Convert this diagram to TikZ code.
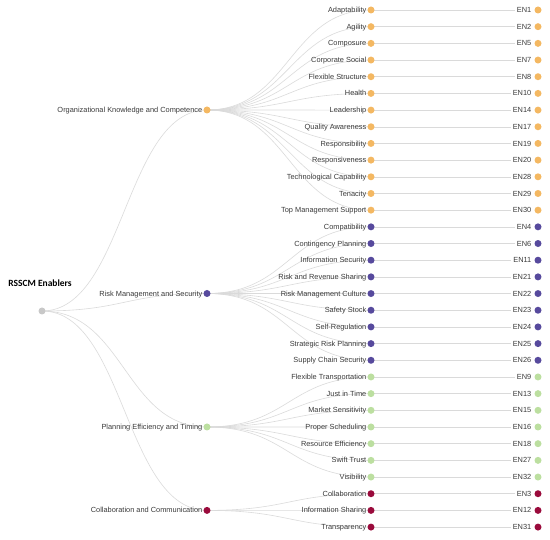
\documentclass[tikz,border=0pt]{standalone}
\usepackage{fontspec}
\setmainfont{Liberation Sans}
\newfontfamily\titlefont{Carlito}
\definecolor{corg}{HTML}{F4B862}
\definecolor{crisk}{HTML}{574A9D}
\definecolor{cplan}{HTML}{BCDFA0}
\definecolor{ccol}{HTML}{9A0B3C}
\definecolor{croot}{HTML}{C8C8C8}
\definecolor{clink}{HTML}{DADADA}
\definecolor{ctext}{HTML}{3A3A3A}
\pgfdeclarelayer{background}
\pgfsetlayers{background,main}
\tikzset{
  dot/.style={circle, inner sep=0pt, minimum size=7pt, fill=#1, draw=none},
  lbl/.style={anchor=base east, font=\fontsize{7.4}{8}\selectfont, text=ctext, inner sep=0pt},
  link/.style={draw=clink, line width=0.6pt},
  rootlbl/.style={font=\titlefont\bfseries\fontsize{9.5}{11}\selectfont, text=black, inner sep=0pt},
}
\begin{document}
\begin{tikzpicture}[x=1pt,y=-1pt]
\useasboundingbox (0,0) rectangle (550,540);
% root
\node[dot=croot] (root) at (42,311) {};
\node[rootlbl] (roottxt) at (40,283) {RSSCM Enablers};
% categories
\node[dot=corg]  (c1) at (207,110) {};
\node[dot=crisk] (c2) at (207,293.5) {};
\node[dot=cplan] (c3) at (207,427) {};
\node[dot=ccol]  (c4) at (207,510.4) {};
\node[lbl] (c1t) at ([xshift=-4.5pt,yshift=-2.6pt]c1.center) {Organizational Knowledge and Competence};
\node[lbl] (c2t) at ([xshift=-4.5pt,yshift=-2.6pt]c2.center) {Risk Management and Security};
\node[lbl] (c3t) at ([xshift=-4.5pt,yshift=-2.6pt]c3.center) {Planning Efficiency and Timing};
\node[lbl] (c4t) at ([xshift=-4.5pt,yshift=-2.6pt]c4.center) {Collaboration and Communication};
\coordinate (mroot) at (124.5,0);
\coordinate (mleaf) at (289,0);
\begin{pgfonlayer}{background}
\foreach \c in {c1,c2,c3,c4}{
  \draw[link] (root.center) .. controls (mroot |- root.center) and (mroot |- \c.center) .. (\c.center);
}
\end{pgfonlayer}
% leaves
\foreach \name/\en/\col/\cat [count=\i from 0] in {
  Adaptability/EN1/corg/c1,
  Agility/EN2/corg/c1,
  Composure/EN5/corg/c1,
  Corporate Social/EN7/corg/c1,
  Flexible Structure/EN8/corg/c1,
  Health/EN10/corg/c1,
  Leadership/EN14/corg/c1,
  Quality Awareness/EN17/corg/c1,
  Responsibility/EN19/corg/c1,
  Responsiveness/EN20/corg/c1,
  Technological Capability/EN28/corg/c1,
  Tenacity/EN29/corg/c1,
  Top Management Support/EN30/corg/c1,
  Compatibility/EN4/crisk/c2,
  Contingency Planning/EN6/crisk/c2,
  Information Security/EN11/crisk/c2,
  Risk and Revenue Sharing/EN21/crisk/c2,
  Risk Management Culture/EN22/crisk/c2,
  Safety Stock/EN23/crisk/c2,
  Self-Regulation/EN24/crisk/c2,
  Strategic Risk Planning/EN25/crisk/c2,
  Supply Chain Security/EN26/crisk/c2,
  Flexible Transportation/EN9/cplan/c3,
  Just in Time/EN13/cplan/c3,
  Market Sensitivity/EN15/cplan/c3,
  Proper Scheduling/EN16/cplan/c3,
  Resource Efficiency/EN18/cplan/c3,
  Swift Trust/EN27/cplan/c3,
  Visibility/EN32/cplan/c3,
  Collaboration/EN3/ccol/c4,
  Information Sharing/EN12/ccol/c4,
  Transparency/EN31/ccol/c4}{
  \pgfmathsetmacro{\yy}{10+\i*16.68}
  \node[dot=\col] (l\i) at (371,\yy) {};
  \node[lbl] (lt\i) at ([xshift=-4.5pt,yshift=-2.6pt]l\i.center) {\name};
  \node[dot=\col] (e\i) at (538,\yy) {};
  \node[lbl] (et\i) at ([xshift=-6.5pt,yshift=-2.6pt]e\i.center) {\en};
  \begin{pgfonlayer}{background}
    \draw[link] (\cat.center) .. controls (mleaf |- \cat.center) and (mleaf |- l\i.center) .. (l\i.center);
    \draw[link, line width=0.5pt] (l\i.center) -- ([xshift=-2pt]et\i.west |- l\i.center);
  \end{pgfonlayer}
}
\end{tikzpicture}
\end{document}
